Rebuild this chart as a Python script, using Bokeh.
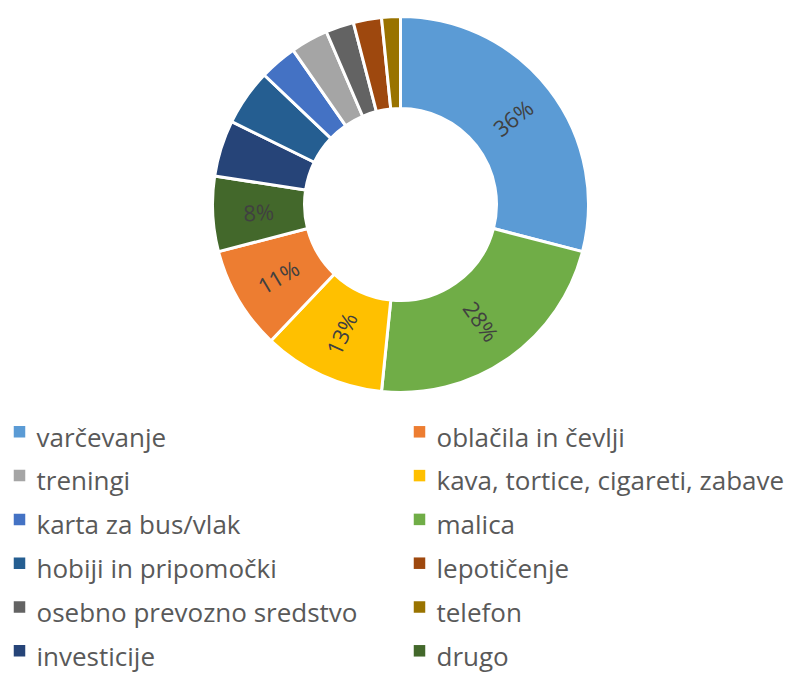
import math
from bokeh.plotting import figure
from bokeh.models import ColumnDataSource, Range1d
from bokeh.core.properties import value
from bokeh.embed import file_html
from bokeh.resources import INLINE

# ---- data (clockwise from 12 o'clock) ----
categories = ["varčevanje", "malica", "kava, tortice, cigareti, zabave",
              "oblačila in čevlji", "drugo", "investicije",
              "hobiji in pripomočki", "karta za bus/vlak", "treningi",
              "osebno prevozno sredstvo", "lepotičenje", "telefon"]
values = [36, 28, 13, 11, 8, 6, 6, 4, 4, 3, 3, 2]
colors = ["#5B9BD5", "#70AD47", "#FFC000", "#ED7D31", "#43682B", "#264478",
          "#255E91", "#4472C4", "#A5A5A5", "#636363", "#9E480E", "#997300"]
shown_labels = ["36%", "28%", "13%", "11%", "8%", "", "", "", "", "", "", ""]

# legend order (row-major, two columns)
legend_order = ["varčevanje", "oblačila in čevlji", "treningi",
                "kava, tortice, cigareti, zabave", "karta za bus/vlak", "malica",
                "hobiji in pripomočki", "lepotičenje", "osebno prevozno sredstvo",
                "telefon", "investicije", "drugo"]

FONT = "Open Sans"
W, H = 793, 677

p = figure(width=W, height=H, output_backend="svg", toolbar_location=None,
           x_range=Range1d(0, W), y_range=Range1d(-H, 0),
           min_border=0, tools="")
p.axis.visible = False
p.grid.visible = False
p.outline_line_color = None
p.background_fill_color = "white"
p.border_fill_color = "white"

cx, cy = 400, -204
r_out, r_in = 188, 96
total = float(sum(values))

starts, ends, mids = [], [], []
cum = 0.0
for v in values:
    a0 = math.pi / 2 - 2 * math.pi * cum / total
    cum += v
    a1 = math.pi / 2 - 2 * math.pi * cum / total
    starts.append(a1)
    ends.append(a0)
    mids.append((a0 + a1) / 2)

src = ColumnDataSource(dict(start=starts, end=ends, color=colors, cat=categories))
p.annular_wedge(x=cx, y=cy, inner_radius=r_in, outer_radius=r_out,
                start_angle="start", end_angle="end", fill_color="color",
                line_color="white", line_width=3, source=src)

# data labels, oriented radially, never upside down
lx, ly, la, lt = [], [], [], []
r_mid = (r_in + r_out) / 2
for m, t in zip(mids, shown_labels):
    if not t:
        continue
    lx.append(cx + r_mid * math.cos(m))
    ly.append(cy + r_mid * math.sin(m))
    ang = math.atan2(math.sin(m), math.cos(m))
    if ang <= -math.pi / 2:
        ang += math.pi
    elif ang > math.pi / 2:
        ang -= math.pi
    la.append(ang)
    lt.append(t)
p.text(x=lx, y=ly, text=lt, angle=la, text_align="center", text_baseline="middle",
       text_font=value(FONT), text_font_size="22px", text_color="#404040")

# legend
color_of = dict(zip(categories, colors))
sq_x, sq_y, sq_c, tx, ty = [], [], [], [], []
base0, step = 444.0, 43.8
for k, name in enumerate(legend_order):
    row, col = divmod(k, 2)
    b = base0 + row * step
    sq_x.append(19 + col * 400)
    sq_y.append(-(b - 12.7))
    sq_c.append(color_of[name])
    tx.append(36 + col * 400)
    ty.append(-(b - 8))
p.rect(x=sq_x, y=sq_y, width=11.5, height=11.5, fill_color=sq_c, line_color=None)
p.text(x=tx, y=ty, text=legend_order, text_align="left", text_baseline="middle",
       text_font=value(FONT), text_font_size="26px", text_color="#595959")

open("out.html", "w").write(file_html(p, INLINE))
